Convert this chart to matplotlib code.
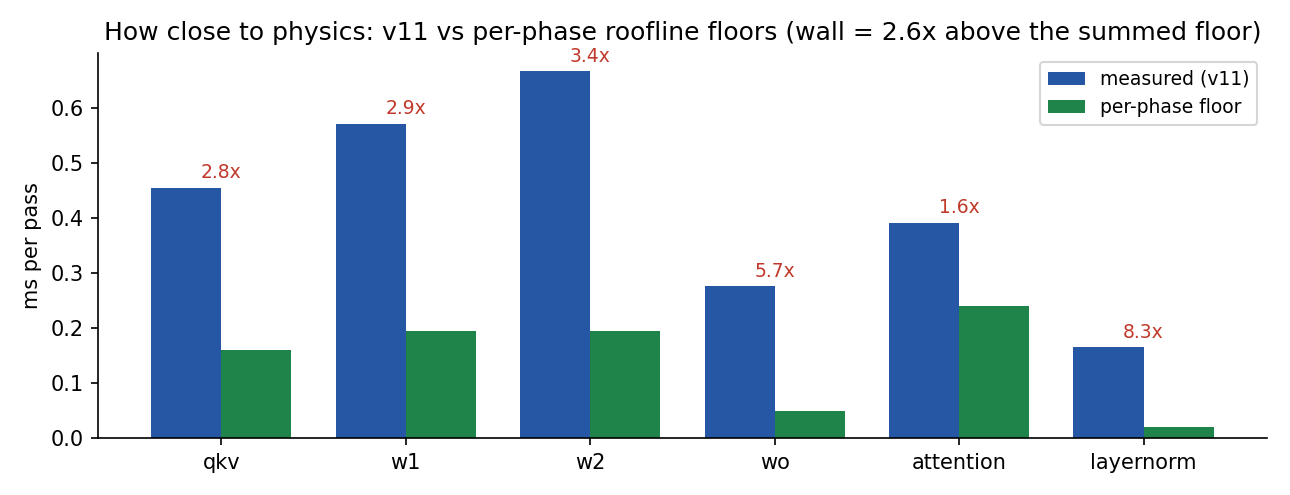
import numpy as np
import matplotlib
matplotlib.use('Agg')
import matplotlib.pyplot as plt

# ---------------- DATA ----------------
phases = ['qkv', 'w1', 'w2', 'wo', 'attention', 'layernorm']
measured = [0.455, 0.571, 0.666, 0.276, 0.391, 0.165]
floor = [0.160, 0.195, 0.195, 0.049, 0.240, 0.020]
ratio_labels = ['2.8x', '2.9x', '3.4x', '5.7x', '1.6x', '8.3x']

# ---------------- PLOT ----------------
fig, ax = plt.subplots(figsize=(8.6, 3.3), dpi=150)
x = np.arange(len(phases))
w = 0.38
ax.bar(x - w / 2, measured, w, color='#2557a4', label='measured (v11)')
ax.bar(x + w / 2, floor, w, color='#1f844a', label='per-phase floor')

for xi, m, lab in zip(x, measured, ratio_labels):
    ax.text(xi, m + 0.01, lab, ha='center', va='bottom', color='#c0392b', fontsize=9)

ax.set_xticks(x)
ax.set_xticklabels(phases)
ax.set_ylabel('ms per pass')
ax.set_title('How close to physics: v11 vs per-phase roofline floors (wall = 2.6x above the summed floor)',
             fontsize=12)
ax.spines['top'].set_visible(False)
ax.spines['right'].set_visible(False)
ax.legend(fontsize=9)

plt.subplots_adjust(left=0.076, right=0.982, top=0.893, bottom=0.115)
plt.savefig('out.png')
